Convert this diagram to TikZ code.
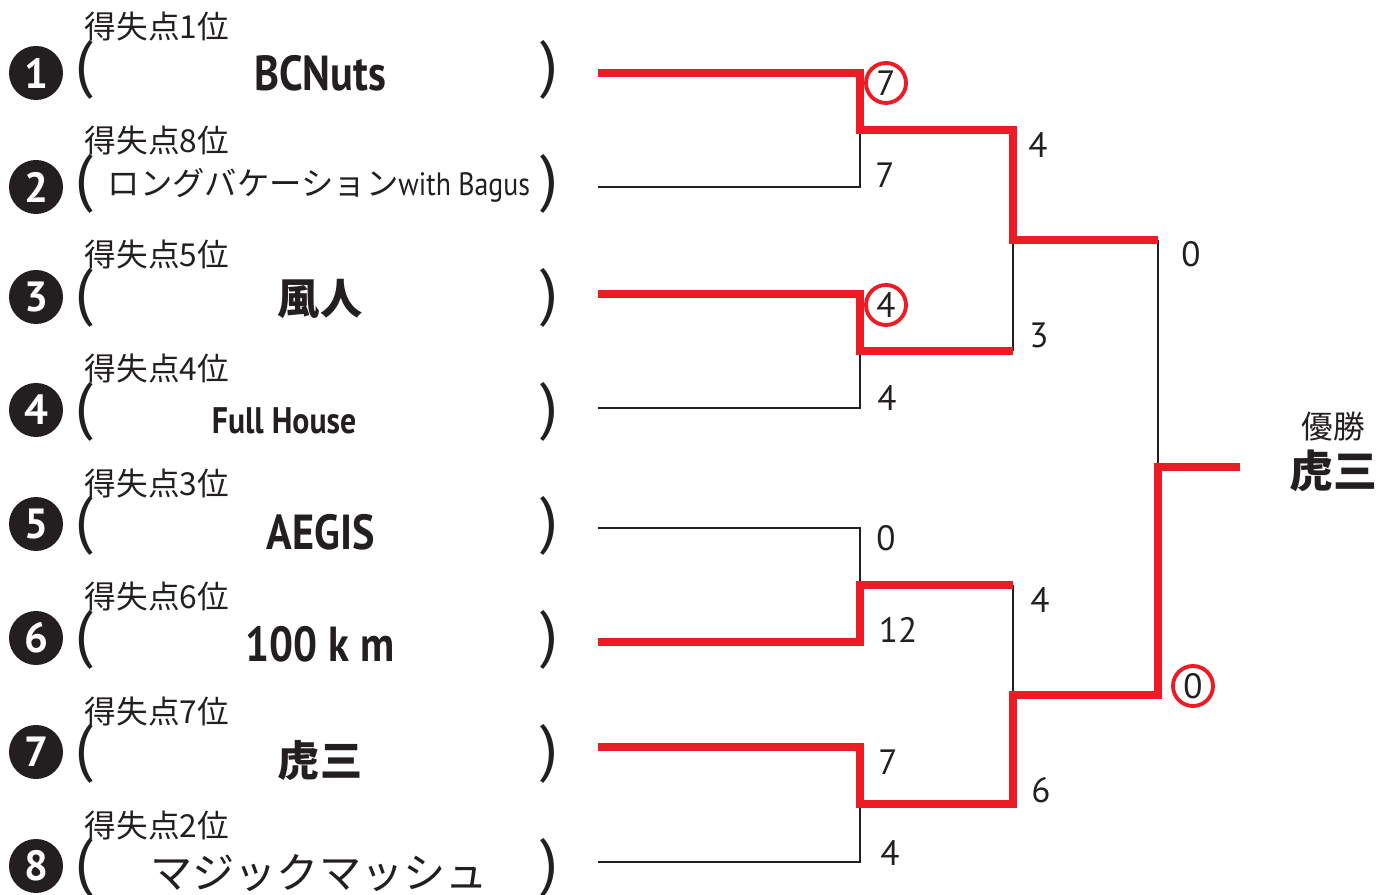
\documentclass[tikz,border=0pt]{standalone}
\usepackage{fontspec}
\setmainfont{PT Sans}
\newfontfamily\narrowsans{PT Sans}[FakeStretch=0.86]
\newfontfamily\jp{Noto Sans CJK JP}
\definecolor{winred}{RGB}{237,28,36}
\definecolor{ink}{RGB}{35,31,32}

\begin{document}
\begin{tikzpicture}[x=0.01cm,y=-0.01cm,
    win/.style={color=winred, line width=2pt},
    lose/.style={color=ink, line width=0.6pt},
    seed/.style={circle, fill=ink, text=white, minimum size=5.4mm, inner sep=0pt, font=\fontsize{12}{12}\selectfont\bfseries},
    paren/.style={text=ink, inner sep=0pt, font=\fontsize{18}{18}\selectfont},
    rank/.style={text=ink, anchor=west, inner sep=0pt, font=\jp\fontsize{9}{9}\selectfont},
    team/.style={text=ink, inner sep=0pt, font=\narrowsans\fontsize{14}{14}\selectfont\bfseries},
    jteam/.style={text=ink, inner sep=0pt, font=\jp\fontsize{12}{12}\selectfont\bfseries},
    score/.style={text=ink, inner sep=0pt, font=\fontsize{10}{10}\selectfont},
    won/.style={score, circle, draw=winred, line width=1.1pt, minimum size=4mm}]
    \useasboundingbox (0,0) rectangle (1390,895);

    % seeds
    \node[seed] (seed1) at (36,73) {1};
    \node[seed] (seed2) at (36,187) {2};
    \node[seed] (seed3) at (36,297) {3};
    \node[seed] (seed4) at (36,410) {4};
    \node[seed] (seed5) at (36,524) {5};
    \node[seed] (seed6) at (36,638) {6};
    \node[seed] (seed7) at (36,752) {7};
    \node[seed] (seed8) at (36,866) {8};

    % ranks
    \node[rank] (rank1) at (84,27) {得失点1位};
    \node[rank] (rank2) at (84,141) {得失点8位};
    \node[rank] (rank3) at (84,255) {得失点5位};
    \node[rank] (rank4) at (84,369) {得失点4位};
    \node[rank] (rank5) at (84,483) {得失点3位};
    \node[rank] (rank6) at (84,597) {得失点6位};
    \node[rank] (rank7) at (84,711) {得失点7位};
    \node[rank] (rank8) at (84,825) {得失点2位};

    % brackets round the names
    \node[paren] (lpar1) at (84,70) {(};   \node[paren] (rpar1) at (549,70) {)};
    \node[paren] (lpar2) at (84,184) {(};  \node[paren] (rpar2) at (549,184) {)};
    \node[paren] (lpar3) at (84,298) {(};  \node[paren] (rpar3) at (549,298) {)};
    \node[paren] (lpar4) at (84,412) {(};  \node[paren] (rpar4) at (549,412) {)};
    \node[paren] (lpar5) at (84,526) {(};  \node[paren] (rpar5) at (549,526) {)};
    \node[paren] (lpar6) at (84,640) {(};  \node[paren] (rpar6) at (549,640) {)};
    \node[paren] (lpar7) at (84,754) {(};  \node[paren] (rpar7) at (549,754) {)};
    \node[paren] (lpar8) at (84,868) {(};  \node[paren] (rpar8) at (549,868) {)};

    % names
    \node[team] (team1) at (320,73) {BCNuts};
    \node[team, font=\fontsize{9.2}{9.2}\selectfont] (team2) at (319,185) {{\jp ロングバケーション}{\narrowsans with Bagus}};
    \node[jteam] (team3) at (320,299) {風人};
    \node[team, font=\narrowsans\fontsize{10.5}{10.5}\selectfont\bfseries] (team4) at (284,421) {Full House};
    \node[team] (team5) at (321,532) {AEGIS};
    \node[team] (team6) at (320,644) {100 k m};
    \node[jteam] (team7) at (320,761) {虎三};
    \node[jteam, font=\jp\fontsize{12}{12}\selectfont] (team8) at (319,873) {マジックマッシュ};

    % line ends
    \coordinate (e1) at (598,73);
    \coordinate (e2) at (598,187);
    \coordinate (e3) at (598,294);
    \coordinate (e4) at (598,408);
    \coordinate (e5) at (598,528);
    \coordinate (e6) at (598,642);
    \coordinate (e7) at (598,747);
    \coordinate (e8) at (598,862);
    \coordinate (a1) at (860,130);
    \coordinate (a2) at (860,351);
    \coordinate (a3) at (860,585);
    \coordinate (a4) at (860,804);
    \coordinate (b1) at (1013,240);
    \coordinate (b2) at (1013,695);
    \coordinate (c1) at (1158,467);
    \coordinate (champ) at (1240,467);

    % losers
    \draw[lose] (e2) -| (a1);
    \draw[lose] (e4) -| (a2);
    \draw[lose] (e5) -| (a3);
    \draw[lose] (e8) -| (a4);
    \draw[lose] (a2 -| b1) -- (b1);
    \draw[lose] (a3 -| b2) -- (b2);
    \draw[lose] (b1 -| c1) -- (c1);
    % winners
    \draw[win] (e1) -| (a1) -| (b1) -- (b1 -| c1);
    \draw[win] (e3) -| (a2) -- (a2 -| b1);
    \draw[win] (e6) -| (a3) -- (a3 -| b2);
    \draw[win] (e7) -| (a4) -| (b2) -| (c1) -- (champ);

    % scores
    \node[won] (sc1) at (886,83) {7};
    \node[score] (sc2) at (885,175) {7};
    \node[won] (sc3) at (886,305) {4};
    \node[score] (sc4) at (887,398) {4};
    \node[score] (sc5) at (886,538) {0};
    \node[score] (sc6) at (898,630) {12};
    \node[score] (sc7) at (888,762) {7};
    \node[score] (sc8) at (890,853) {4};
    \node[score] (sc12) at (1038,145) {4};
    \node[score] (sc34) at (1039,335) {3};
    \node[score] (sc56) at (1040,600) {4};
    \node[score] (sc78) at (1041,790) {6};
    \node[score] (scf1) at (1191,254) {0};
    \node[won] (scf2) at (1193,686) {0};

    % champion
    \node[rank, anchor=center] (title) at (1333,427) {優勝};
    \node[jteam, font=\jp\fontsize{12.5}{12.5}\selectfont\bfseries] (winner) at (1333,471) {虎三};
\end{tikzpicture}
\end{document}
